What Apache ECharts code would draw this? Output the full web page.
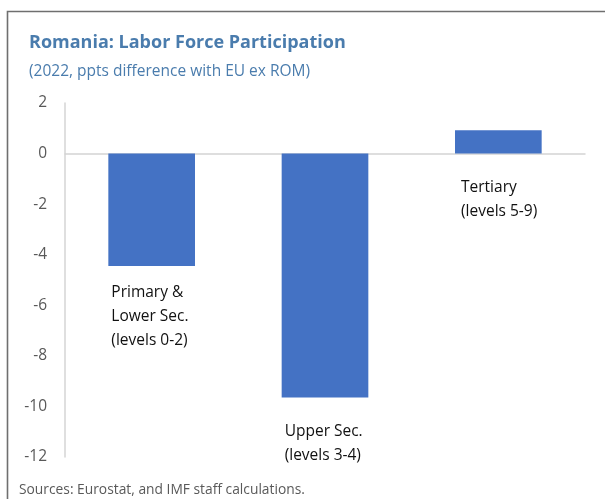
<!DOCTYPE html>
<html>
<head>
<meta charset="utf-8">
<script src="https://cdn.jsdelivr.net/npm/echarts@6/dist/echarts.min.js"></script>
<style>
  html, body { margin: 0; padding: 0; background: #fff; }
  #chart { width: 605px; height: 499px; }
</style>
</head>
<body>
<div id="chart"></div>
<script>
// data
var categories = ['Primary &\nLower Sec.\n(levels 0-2)', 'Upper Sec.\n(levels 3-4)', 'Tertiary\n(levels 5-9)'];
var values = [-4.45, -9.65, 0.92];
var labelGap = [14, 22, 22]; // px between bar end / zero line and its label
var labelShift = [3, 3, 6];

var chart = echarts.init(document.getElementById('chart'));
var font = '"Open Sans", "Noto Sans", sans-serif';

var option = {
  animation: false,
  title: {
    text: 'Romania: Labor Force Participation',
    subtext: '(2022, ppts difference with EU ex ROM)',
    left: 24,
    top: 29,
    itemGap: 12,
    textStyle: { fontFamily: font, fontSize: 18, fontWeight: 'bold', color: '#4a7cad' },
    subtextStyle: { fontFamily: font, fontSize: 15.5, color: '#4a7cad' }
  },
  graphic: [
    {
      type: 'rect',
      shape: { x: 7.5, y: 11.5, width: 620, height: 520 },
      style: { fill: 'none', stroke: '#6f6f6f', lineWidth: 1.6 },
      silent: true
    },
    {
      type: 'text',
      left: 19,
      top: 483,
      style: { text: 'Sources: Eurostat, and IMF staff calculations.', font: '13.8px ' + font, fill: '#595959' }
    }
  ],
  grid: { left: 65, right: 20, top: 103, bottom: 42 },
  xAxis: {
    type: 'category',
    data: categories,
    axisLine: { onZero: true, lineStyle: { color: '#d4d4d4', width: 1.5 } },
    axisTick: { show: false },
    axisLabel: { show: false }
  },
  yAxis: {
    type: 'value',
    min: -12,
    max: 2,
    interval: 2,
    axisLine: { show: true, lineStyle: { color: '#d4d4d4', width: 1.5 } },
    axisTick: { show: false },
    splitLine: { show: false },
    axisLabel: { fontFamily: font, fontSize: 15.5, color: '#595959', margin: 18 }
  },
  series: [{
    type: 'bar',
    barWidth: '50%',
    itemStyle: { color: '#4472c4' },
    data: values.map(function (v, i) {
      return {
        value: v,
        label: {
          show: true,
          position: [labelShift[i], '100%'],
          offset: [0, labelGap[i]],
          formatter: categories[i],
          fontFamily: font,
          fontSize: 15.5,
          lineHeight: 24,
          color: '#111'
        }
      };
    })
  }]
};

chart.setOption(option);
</script>
</body>
</html>
